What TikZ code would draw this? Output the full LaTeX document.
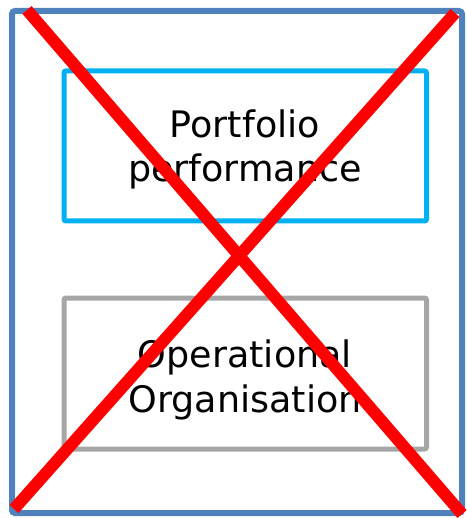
\documentclass[tikz,border=0pt]{standalone}
\usepackage{fontspec}
\setmainfont{DejaVu Sans}
\definecolor{outerblue}{HTML}{4F81BD}
\definecolor{cyanbox}{HTML}{00B0F0}
\definecolor{greybox}{HTML}{A6A6A6}
\begin{document}
\begin{tikzpicture}[x=1pt,y=-1pt,
  boxlabel/.style={font=\fontsize{36.5}{44}\selectfont, anchor=base, text=black, inner sep=0pt},
  cross/.style={draw=red, line width=12pt}]
\useasboundingbox (0,0) rectangle (466,518);
\draw[outerblue, line width=6pt, rounded corners=3pt] (12,11) rectangle (462,513);
\node[draw=cyanbox, line width=5pt, rounded corners=2pt, minimum width=362.5pt, minimum height=150pt, inner sep=0pt] (top) at (245.25,146) {};
\node[draw=greybox, line width=5pt, rounded corners=2pt, minimum width=362.5pt, minimum height=151pt, inner sep=0pt] (bottom) at (245.25,373.5) {};
\node[boxlabel] (toptext1) at (245,138) {Portfolio};
\node[boxlabel] (toptext2) at (245,182) {performance};
\node[boxlabel] (bottext1) at (245,367) {Operational};
\node[boxlabel] (bottext2) at (245,412) {Organisation};
\coordinate (a1) at (27,10);
\coordinate (a2) at (462,514);
\coordinate (b1) at (455,13);
\coordinate (b2) at (14,509);
\draw[cross] (a1) -- (a2);
\draw[cross] (b1) -- (b2);
\end{tikzpicture}
\end{document}
